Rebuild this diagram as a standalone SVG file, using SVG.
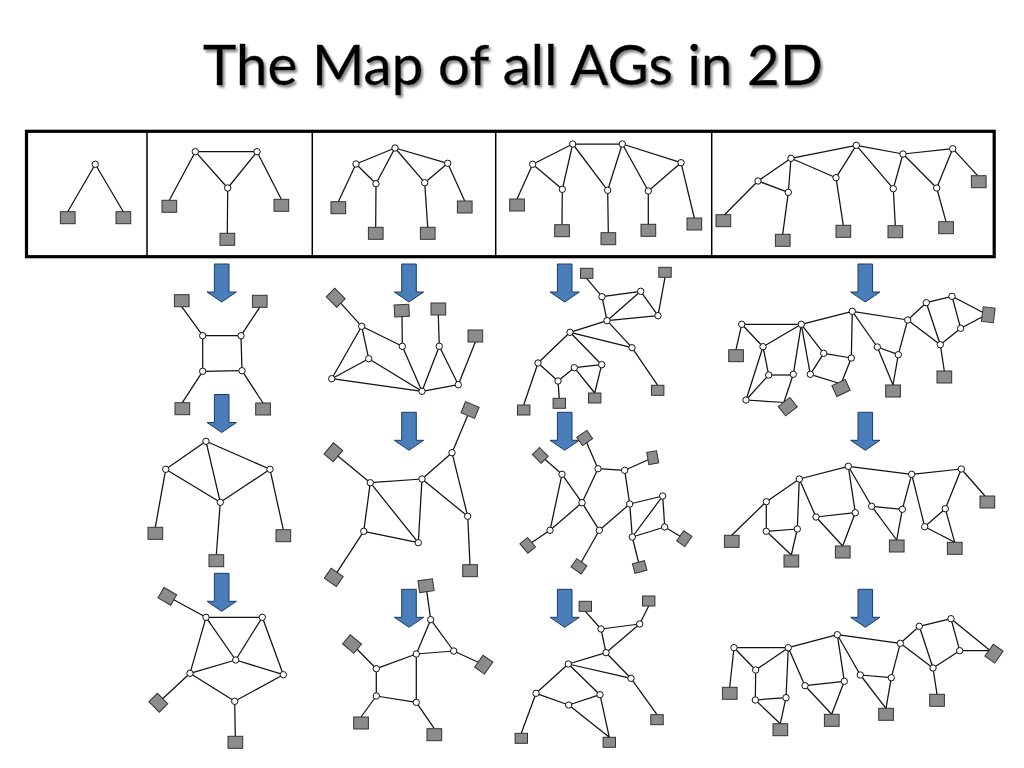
<svg xmlns="http://www.w3.org/2000/svg" width="1024" height="768" viewBox="0 0 1024 768">
<style>
.e path{fill:none;stroke:#111;stroke-width:1.25}
.f{fill:none;stroke:#000}
.t{font-family:"Lato","Liberation Sans",sans-serif;font-size:57px;fill:#000;stroke:#000;stroke-width:.4}
</style>
<defs>
<filter id="sh" x="-5%" y="-20%" width="110%" height="150%"><feDropShadow dx="2" dy="2.5" stdDeviation="1.2" flood-color="#8a8a8a"/></filter>
<circle id="nd" r="3.2" fill="#fff" stroke="#111" stroke-width="1"/>
<rect id="sq" x="-7.3" y="-6" width="14.7" height="12" fill="#8c8c8c" stroke="#333" stroke-width="1"/>
<rect id="ss" x="-6.2" y="-5" width="12.4" height="10" fill="#8c8c8c" stroke="#333" stroke-width="1"/>
<path id="ar" d="M-7.3 0H7.3V28H14.7L0 38L-14.7 28H-7.3Z" fill="#4a7ebb" stroke="#1f3a63" stroke-width="1"/>
</defs>
<rect width="1024" height="768" fill="#fff"/>
<text id="title" class="t" x="513" y="85" text-anchor="middle" filter="url(#sh)" textLength="620" lengthAdjust="spacingAndGlyphs">The Map of all AGs in 2D</text>
<g id="frame">
<rect class="f" x="26.5" y="131.3" width="967.7" height="125.4" stroke-width="3.2"/>
<path class="f" stroke-width="1.5" d="M147 131V256M312.3 131V256M495.7 131V256M711.7 131V256"/>
</g>
<g id="arrows">
<use href="#ar" x="221.7" y="264"/><use href="#ar" x="409" y="264"/><use href="#ar" x="564.7" y="264"/><use href="#ar" x="865.3" y="264"/>
<use href="#ar" x="221.7" y="394.5"/><use href="#ar" x="409" y="412.3"/><use href="#ar" x="564.7" y="412.3"/><use href="#ar" x="865.3" y="412.3"/>
<use href="#ar" x="221.7" y="573.3"/><use href="#ar" x="409" y="589.3"/><use href="#ar" x="564.7" y="589.3"/><use href="#ar" x="865.3" y="589.3"/>
</g>
<g id="connectors" class="e">
<path d="M95.3 164.3L67.7 211.7"/><path d="M95.3 164.3L123.3 211.7"/>
<path d="M195.3 151.7H257"/><path d="M195.3 151.7L227.7 188"/><path d="M257 151.7L227.7 188"/><path d="M195.3 151.7L169.3 200.3"/><path d="M257 151.7L281.3 199.3"/><path d="M227.7 188L227.3 233.3"/>
<path d="M395 148L356 164"/><path d="M395 148L376 183.7"/><path d="M395 148L424.7 182.7"/><path d="M395 148L447.7 163.3"/><path d="M356 164L376 183.7"/><path d="M424.7 182.7L447.7 163.3"/><path d="M356 164L338.3 201.7"/><path d="M376 183.7L375.7 227.3"/><path d="M424.7 182.7L427.7 227.3"/><path d="M447.7 163.3L464.7 201"/>
<path d="M532.7 164.3L572.7 144"/><path d="M572.7 144H622.3"/><path d="M622.3 144L681 162.7"/><path d="M532.7 164.3L562.3 189.3"/><path d="M572.7 144L562.3 189.3"/><path d="M572.7 144L607.7 190.3"/><path d="M622.3 144L607.7 190.3"/><path d="M622.3 144L648.3 191"/><path d="M681 162.7L648.3 191"/><path d="M532.7 164.3L517 199"/><path d="M562.3 189.3L562 224.7"/><path d="M607.7 190.3L608.3 232.7"/><path d="M648.3 191V224.3"/><path d="M681 162.7L694.3 218"/>
<path d="M758 181L791 158.3"/><path d="M791 158.3L856.3 145.3"/><path d="M856.3 145.3L903 154"/><path d="M903 154L952.7 148.7"/><path d="M758 181L788.3 192.3"/><path d="M791 158.3L788.3 192.3"/><path d="M791 158.3L836 177.7"/><path d="M856.3 145.3L836 177.7"/><path d="M856.3 145.3L893.3 188.7"/><path d="M903 154L893.3 188.7"/><path d="M903 154L936.7 188"/><path d="M952.7 148.7L936.7 188"/><path d="M758 181L724.3 215"/><path d="M788.3 192.3L782.7 234.3"/><path d="M836 177.7L843.3 225.3"/><path d="M893.3 188.7L895.3 225.7"/><path d="M936.7 188L946 221.7"/><path d="M952.7 148.7L977.7 175.7"/>
<path d="M202.7 335.7H241"/><path d="M202.7 335.7V371.3"/><path d="M241 335.7L242 370.7"/><path d="M202.7 371.3L242 370.7"/><path d="M202.7 335.7L181.7 306.7"/><path d="M241 335.7L259.7 307.3"/><path d="M202.7 371.3L182.3 402.7"/><path d="M242 370.7L263 403"/>
<path d="M361.7 326.3L402.3 346.3"/><path d="M361.7 326.3L368.7 358.7"/><path d="M361.7 326.3L331.7 378.7"/><path d="M368.7 358.7L331.7 378.7"/><path d="M368.7 358.7L422 391.3"/><path d="M331.7 378.7L422 391.3"/><path d="M402.3 346.3L422 391.3"/><path d="M439.3 346.3L422 391.3"/><path d="M439.3 346.3L458.3 384.7"/><path d="M422 391.3L458.3 384.7"/><path d="M361.7 326.3L335.7 297.7"/><path d="M402.3 346.3L402 316"/><path d="M439.3 346.3L438.3 315"/><path d="M458.3 384.7L475.3 342"/>
<path d="M602 296.7L640.7 291.3"/><path d="M640.7 291.3L658 315.7"/><path d="M602 296.7L607 320.7"/><path d="M640.7 291.3L607 320.7"/><path d="M658 315.7L607 320.7"/><path d="M607 320.7L570 332.3"/><path d="M607 320.7L632 347.7"/><path d="M570 332.3L632 347.7"/><path d="M570 332.3L538 363"/><path d="M570 332.3L601.7 364.7"/><path d="M538 363L558 381"/><path d="M558 381L574.3 367.7"/><path d="M574.3 367.7L601.7 364.7"/><path d="M574.3 367.7L594.7 393"/><path d="M601.7 364.7L594.7 393"/><path d="M602 296.7L586.7 278.3"/><path d="M658 315.7L665 277.3"/><path d="M632 347.7L657.7 385.3"/><path d="M538 363L523.7 405"/><path d="M558 381L559.3 398.3"/>
<path d="M741.7 324.3L801.3 324.3"/><path d="M801.3 324.3L852.3 311.3"/><path d="M852.3 311.3L907.7 320"/><path d="M907.7 320L926.3 302.7"/><path d="M926.3 302.7L952 296.3"/><path d="M952 296.3L960.7 328.3"/><path d="M960.7 328.3L940.3 344.7"/><path d="M907.7 320L940.3 344.7"/><path d="M926.3 302.7L940.3 344.7"/><path d="M952 296.3L984 313"/><path d="M960.7 328.3L984 316"/><path d="M940.3 344.7L944.3 371"/><path d="M741.7 324.3L763 346.7"/><path d="M801.3 324.3L763 346.7"/><path d="M763 346.7L768.7 375"/><path d="M763 346.7L746 400"/><path d="M768.7 375H793.3"/><path d="M768.7 375L746 400"/><path d="M793.3 374.3L801.3 324.3"/><path d="M793.3 374.3L784 402"/><path d="M746 400L785 402.5"/><path d="M801.3 324.3L823.7 353.3"/><path d="M801.3 324.3L810.3 374.3"/><path d="M823.7 353.3L851.3 358"/><path d="M823.7 353.3L810.3 374.3"/><path d="M852.3 311.3L851.3 358"/><path d="M851.3 358L841 384"/><path d="M810.3 374.3L838 383"/><path d="M852.3 311.3L877.3 347"/><path d="M877.3 347L898.3 354.7"/><path d="M907.7 320L898.3 354.7"/><path d="M877.3 347L893 385"/><path d="M898.3 354.7L893 385"/><path d="M741.7 324.3L736 349.7"/>
<path d="M206 441.3L165.7 469.3"/><path d="M206 441.3L270 469.3"/><path d="M206 441.3L220.3 502.3"/><path d="M165.7 469.3L220.3 502.3"/><path d="M270 469.3L220.3 502.3"/><path d="M165.7 469.3L155.3 527.3"/><path d="M270 469.3L283.3 529.7"/><path d="M220.3 502.3L216.3 554.7"/>
<path d="M370.3 482.7L422 479"/><path d="M370.3 482.7L363.7 531.3"/><path d="M370.3 482.7L418.3 542.7"/><path d="M422 479L418.3 542.7"/><path d="M363.7 531.3L418.3 542.7"/><path d="M422 479L452 452.7"/><path d="M422 479L467.7 516.3"/><path d="M452 452.7L467.7 516.3"/><path d="M370.3 482.7L333.3 452.3"/><path d="M363.7 531.3L333.7 577.3"/><path d="M452 452.7L470 410"/><path d="M467.7 516.3L470 564.7"/>
<path d="M562 474.3L582 502.7"/><path d="M562 474.3L550 530.3"/><path d="M582 502.7L550 530.3"/><path d="M582 502.7L598 468.7"/><path d="M598 468.7L624.7 470.3"/><path d="M624.7 470.3L629.7 504"/><path d="M582 502.7L599.3 530.3"/><path d="M629.7 504L599.3 530.3"/><path d="M629.7 504L662.7 496"/><path d="M629.7 504L632.3 537"/><path d="M662.7 496L664.7 527"/><path d="M662.7 496L632.3 537"/><path d="M664.7 527L632.3 537"/><path d="M562 474.3L540.3 455.3"/><path d="M598 468.7L584.7 438"/><path d="M624.7 470.3L652.7 457.7"/><path d="M550 530.3L527.7 545.3"/><path d="M599.3 530.3L579 566.3"/><path d="M664.7 527L684.3 538.7"/><path d="M632.3 537L639.7 567"/>
<path d="M766.3 501.7L799.3 479"/><path d="M799.3 479L848.3 466.3"/><path d="M848.3 466.3L911.7 474.3"/><path d="M911.7 474.3L961.3 469"/><path d="M766.3 501.7V531.3"/><path d="M799.3 479L797.3 529"/><path d="M766.3 531.3L797.3 529"/><path d="M766.3 531.3L791.3 555"/><path d="M797.3 529L791.3 555"/><path d="M799.3 479L816 517"/><path d="M816 517L855.3 512.7"/><path d="M848.3 466.3L855.3 512.7"/><path d="M816 517L842.7 546"/><path d="M855.3 512.7L842.7 546"/><path d="M848.3 466.3L871.7 506.3"/><path d="M871.7 506.3L902.3 509.3"/><path d="M911.7 474.3L902.3 509.3"/><path d="M871.7 506.3L896.7 540"/><path d="M902.3 509.3L896.7 540"/><path d="M911.7 474.3L924.7 526.7"/><path d="M924.7 526.7L945.3 508.7"/><path d="M961.3 469L945.3 508.7"/><path d="M924.7 526.7L954.7 542.3"/><path d="M945.3 508.7L954.7 542.3"/><path d="M766.3 501.7L731.7 535.3"/><path d="M961.3 469L985 496"/>
<path d="M206 617.3H262.3"/><path d="M206 617.3L235.7 660"/><path d="M262.3 617.3L235.7 660"/><path d="M206 617.3L190 673.3"/><path d="M262.3 617.3L283.3 674.7"/><path d="M235.7 660L190 673.3"/><path d="M235.7 660L283.3 674.7"/><path d="M190 673.3L234.7 701.3"/><path d="M283.3 674.7L234.7 701.3"/><path d="M206 617.3L167.3 596.3"/><path d="M190 673.3L158.3 702.7"/><path d="M234.7 701.3L235.3 736.3"/>
<path d="M430.7 619.7L453.7 651"/><path d="M430.7 619.7L416.3 654"/><path d="M453.7 651L416.3 654"/><path d="M416.3 654L376.3 668.7"/><path d="M416.3 654V702.3"/><path d="M376.3 668.7V696"/><path d="M376.3 696L416.3 702.3"/><path d="M430.7 619.7L426 585.7"/><path d="M453.7 651L483.7 664.7"/><path d="M376.3 668.7L352 644"/><path d="M376.3 696L361 717"/><path d="M416.3 702.3L434.3 728.7"/>
<path d="M601 629L639.7 624"/><path d="M601 629L606 652.7"/><path d="M639.7 624L606 652.7"/><path d="M606 652.7L568.3 664"/><path d="M606 652.7L631 678.3"/><path d="M568.3 664L631 678.3"/><path d="M568.3 664L536 693.3"/><path d="M568.3 664L600 694.7"/><path d="M536 693.3L568.7 705"/><path d="M568.7 705L600 694.7"/><path d="M568.7 705L609.3 737.3"/><path d="M600 694.7L609.3 737.3"/><path d="M601 629L585.3 611.3"/><path d="M639.7 624L648.7 606"/><path d="M631 678.3L657 714.7"/><path d="M536 693.3L521.3 733.3"/>
<path d="M734 647.7H788.3"/><path d="M788.3 647.7L837.3 634.7"/><path d="M837.3 634.7L900.3 643.3"/><path d="M900.3 643.3L919.3 626.3"/><path d="M919.3 626.3L951 618.7"/><path d="M951 618.7L959.7 650.7"/><path d="M959.7 650.7L933 668"/><path d="M900.3 643.3L933 668"/><path d="M919.3 626.3L933 668"/><path d="M734 647.7L755.7 670"/><path d="M788.3 647.7L755.7 670"/><path d="M755.7 670L755.3 700"/><path d="M788.3 647.7L786 697.7"/><path d="M755.3 700L786 697.7"/><path d="M755.3 700L780.3 723.7"/><path d="M786 697.7L780.3 723.7"/><path d="M788.3 647.7L805 685.7"/><path d="M805 685.7L844.3 681.3"/><path d="M837.3 634.7L844.3 681.3"/><path d="M805 685.7L831.7 714.3"/><path d="M844.3 681.3L831.7 714.3"/><path d="M837.3 634.7L860.3 675"/><path d="M860.3 675L891.3 677.7"/><path d="M900.3 643.3L891.3 677.7"/><path d="M860.3 675L886 708.3"/><path d="M891.3 677.7L886 708.3"/><path d="M933 668L937 694.3"/><path d="M734 647.7L729.7 687.3"/><path d="M951 618.7L994 653.7"/><path d="M959.7 650.7L994 650.7"/>
</g>
<g id="top1"><g id="t1n1" transform="translate(95.3 164.3)"><use href="#nd"/></g><g id="t1s1" transform="translate(67.7 217.7)"><use href="#sq"/></g><g id="t1s2" transform="translate(123.3 217.7)"><use href="#sq"/></g></g>
<g id="top2"><g id="t2n1" transform="translate(195.3 151.7)"><use href="#nd"/></g><g id="t2n2" transform="translate(257 151.7)"><use href="#nd"/></g><g id="t2n3" transform="translate(227.7 188)"><use href="#nd"/></g><g id="t2s1" transform="translate(169.3 206.3)"><use href="#sq"/></g><g id="t2s2" transform="translate(281.3 205.3)"><use href="#sq"/></g><g id="t2s3" transform="translate(227.3 239.3)"><use href="#sq"/></g></g>
<g id="top3"><g id="t3n1" transform="translate(395 148)"><use href="#nd"/></g><g id="t3n2" transform="translate(356 164)"><use href="#nd"/></g><g id="t3n3" transform="translate(376 183.7)"><use href="#nd"/></g><g id="t3n4" transform="translate(424.7 182.7)"><use href="#nd"/></g><g id="t3n5" transform="translate(447.7 163.3)"><use href="#nd"/></g><g id="t3s1" transform="translate(338.3 207.7)"><use href="#sq"/></g><g id="t3s2" transform="translate(375.7 233.3)"><use href="#sq"/></g><g id="t3s3" transform="translate(427.7 233.3)"><use href="#sq"/></g><g id="t3s4" transform="translate(464.7 207)"><use href="#sq"/></g></g>
<g id="top4"><g id="t4n1" transform="translate(532.7 164.3)"><use href="#nd"/></g><g id="t4n2" transform="translate(572.7 144)"><use href="#nd"/></g><g id="t4n3" transform="translate(622.3 144)"><use href="#nd"/></g><g id="t4n4" transform="translate(681 162.7)"><use href="#nd"/></g><g id="t4n5" transform="translate(562.3 189.3)"><use href="#nd"/></g><g id="t4n6" transform="translate(607.7 190.3)"><use href="#nd"/></g><g id="t4n7" transform="translate(648.3 191)"><use href="#nd"/></g><g id="t4s1" transform="translate(517 205)"><use href="#sq"/></g><g id="t4s2" transform="translate(562 230.7)"><use href="#sq"/></g><g id="t4s3" transform="translate(608.3 238.7)"><use href="#sq"/></g><g id="t4s4" transform="translate(648.3 230.3)"><use href="#sq"/></g><g id="t4s5" transform="translate(694.3 224)"><use href="#sq"/></g></g>
<g id="top5"><g id="t5n1" transform="translate(758 181)"><use href="#nd"/></g><g id="t5n2" transform="translate(791 158.3)"><use href="#nd"/></g><g id="t5n3" transform="translate(856.3 145.3)"><use href="#nd"/></g><g id="t5n4" transform="translate(903 154)"><use href="#nd"/></g><g id="t5n5" transform="translate(952.7 148.7)"><use href="#nd"/></g><g id="t5n6" transform="translate(788.3 192.3)"><use href="#nd"/></g><g id="t5n7" transform="translate(836 177.7)"><use href="#nd"/></g><g id="t5n8" transform="translate(893.3 188.7)"><use href="#nd"/></g><g id="t5n9" transform="translate(936.7 188)"><use href="#nd"/></g><g id="t5s1" transform="translate(723.3 220.7)"><use href="#sq"/></g><g id="t5s2" transform="translate(782.7 240.3)"><use href="#sq"/></g><g id="t5s3" transform="translate(843.3 231.3)"><use href="#sq"/></g><g id="t5s4" transform="translate(895.3 231.7)"><use href="#sq"/></g><g id="t5s5" transform="translate(946 227.7)"><use href="#sq"/></g><g id="t5s6" transform="translate(978.7 181.7)"><use href="#sq"/></g></g>
<g id="r1c2"><g id="a1" transform="translate(202.7 335.7)"><use href="#nd"/></g><g id="a2" transform="translate(241 335.7)"><use href="#nd"/></g><g id="a3" transform="translate(202.7 371.3)"><use href="#nd"/></g><g id="a4" transform="translate(242 370.7)"><use href="#nd"/></g><g id="a5" transform="translate(181.7 300.7)"><use href="#sq"/></g><g id="a6" transform="translate(259.7 301.3)"><use href="#sq"/></g><g id="a7" transform="translate(182.3 408.7)"><use href="#sq"/></g><g id="a8" transform="translate(263 409)"><use href="#sq"/></g></g>
<g id="r1c3"><g id="b1" transform="translate(361.7 326.3)"><use href="#nd"/></g><g id="b2" transform="translate(402.3 346.3)"><use href="#nd"/></g><g id="b3" transform="translate(439.3 346.3)"><use href="#nd"/></g><g id="b4" transform="translate(368.7 358.7)"><use href="#nd"/></g><g id="b5" transform="translate(331.7 378.7)"><use href="#nd"/></g><g id="b6" transform="translate(422 391.3)"><use href="#nd"/></g><g id="b7" transform="translate(458.3 384.7)"><use href="#nd"/></g><g id="b8" transform="translate(335.7 297.7) rotate(45)"><use href="#sq"/></g><g id="b9" transform="translate(401.7 310.7) rotate(-3)"><use href="#sq"/></g><g id="b10" transform="translate(438.3 309)"><use href="#sq"/></g><g id="b11" transform="translate(475.3 336)"><use href="#sq"/></g></g>
<g id="r1c4"><g id="c1" transform="translate(602 296.7)"><use href="#nd"/></g><g id="c2" transform="translate(640.7 291.3)"><use href="#nd"/></g><g id="c3" transform="translate(658 315.7)"><use href="#nd"/></g><g id="c4" transform="translate(607 320.7)"><use href="#nd"/></g><g id="c5" transform="translate(570 332.3)"><use href="#nd"/></g><g id="c6" transform="translate(632 347.7)"><use href="#nd"/></g><g id="c7" transform="translate(538 363)"><use href="#nd"/></g><g id="c8" transform="translate(558 381)"><use href="#nd"/></g><g id="c9" transform="translate(574.3 367.7)"><use href="#nd"/></g><g id="c10" transform="translate(601.7 364.7)"><use href="#nd"/></g><g id="c11" transform="translate(586.7 273.3)"><use href="#ss"/></g><g id="c12" transform="translate(665 272.3)"><use href="#ss"/></g><g id="c13" transform="translate(657.7 390.3)"><use href="#ss"/></g><g id="c14" transform="translate(523.7 410)"><use href="#ss"/></g><g id="c15" transform="translate(559.3 403.3)"><use href="#ss"/></g><g id="c16" transform="translate(594.7 398)"><use href="#ss"/></g></g>
<g id="r1c5"><g id="d1" transform="translate(741.7 324.3)"><use href="#nd"/></g><g id="d2" transform="translate(801.3 324.3)"><use href="#nd"/></g><g id="d3" transform="translate(852.3 311.3)"><use href="#nd"/></g><g id="d4" transform="translate(907.7 320)"><use href="#nd"/></g><g id="d5" transform="translate(926.3 302.7)"><use href="#nd"/></g><g id="d6" transform="translate(952 296.3)"><use href="#nd"/></g><g id="d7" transform="translate(960.7 328.3)"><use href="#nd"/></g><g id="d8" transform="translate(940.3 344.7)"><use href="#nd"/></g><g id="d9" transform="translate(763 346.7)"><use href="#nd"/></g><g id="d10" transform="translate(768.7 375)"><use href="#nd"/></g><g id="d11" transform="translate(793.3 374.3)"><use href="#nd"/></g><g id="d12" transform="translate(746 400)"><use href="#nd"/></g><g id="d13" transform="translate(823.7 353.3)"><use href="#nd"/></g><g id="d14" transform="translate(851.3 358)"><use href="#nd"/></g><g id="d15" transform="translate(810.3 374.3)"><use href="#nd"/></g><g id="d16" transform="translate(877.3 347)"><use href="#nd"/></g><g id="d17" transform="translate(898.3 354.7)"><use href="#nd"/></g><g id="d18" transform="translate(736 355.7)"><use href="#sq"/></g><g id="d19" transform="translate(787.7 406.7) rotate(-38)"><use href="#sq"/></g><g id="d20" transform="translate(841 388) rotate(-25)"><use href="#sq"/></g><g id="d21" transform="translate(893 391)"><use href="#sq"/></g><g id="d22" transform="translate(944.3 377)"><use href="#sq"/></g><g id="d23" transform="translate(988.3 314.7) rotate(97)"><use href="#sq"/></g></g>
<g id="r2c2"><g id="e1" transform="translate(206 441.3)"><use href="#nd"/></g><g id="e2" transform="translate(165.7 469.3)"><use href="#nd"/></g><g id="e3" transform="translate(270 469.3)"><use href="#nd"/></g><g id="e4" transform="translate(220.3 502.3)"><use href="#nd"/></g><g id="e5" transform="translate(155.3 533.3)"><use href="#sq"/></g><g id="e6" transform="translate(283.3 535.7)"><use href="#sq"/></g><g id="e7" transform="translate(216.3 560.7)"><use href="#sq"/></g></g>
<g id="r2c3"><g id="f1" transform="translate(370.3 482.7)"><use href="#nd"/></g><g id="f2" transform="translate(422 479)"><use href="#nd"/></g><g id="f3" transform="translate(452 452.7)"><use href="#nd"/></g><g id="f4" transform="translate(467.7 516.3)"><use href="#nd"/></g><g id="f5" transform="translate(363.7 531.3)"><use href="#nd"/></g><g id="f6" transform="translate(418.3 542.7)"><use href="#nd"/></g><g id="f7" transform="translate(333.3 452.3) rotate(-50)"><use href="#sq"/></g><g id="f8" transform="translate(333.7 577.3) rotate(35)"><use href="#sq"/></g><g id="f9" transform="translate(470 410) rotate(22)"><use href="#sq"/></g><g id="f10" transform="translate(470 570.7)"><use href="#sq"/></g></g>
<g id="r2c4"><g id="h1" transform="translate(562 474.3)"><use href="#nd"/></g><g id="h2" transform="translate(598 468.7)"><use href="#nd"/></g><g id="h3" transform="translate(624.7 470.3)"><use href="#nd"/></g><g id="h4" transform="translate(582 502.7)"><use href="#nd"/></g><g id="h5" transform="translate(629.7 504)"><use href="#nd"/></g><g id="h6" transform="translate(662.7 496)"><use href="#nd"/></g><g id="h7" transform="translate(664.7 527)"><use href="#nd"/></g><g id="h8" transform="translate(632.3 537)"><use href="#nd"/></g><g id="h9" transform="translate(550 530.3)"><use href="#nd"/></g><g id="h10" transform="translate(599.3 530.3)"><use href="#nd"/></g><g id="h11" transform="translate(584.7 438) rotate(-35)"><use href="#ss"/></g><g id="h12" transform="translate(540.3 455.3) rotate(45)"><use href="#ss"/></g><g id="h13" transform="translate(652.7 457.7) rotate(80)"><use href="#ss"/></g><g id="h14" transform="translate(527.7 545.3) rotate(50)"><use href="#ss"/></g><g id="h15" transform="translate(684.3 538.7) rotate(-55)"><use href="#ss"/></g><g id="h16" transform="translate(579 566.3) rotate(35)"><use href="#ss"/></g><g id="h17" transform="translate(639.7 567) rotate(-15)"><use href="#ss"/></g></g>
<g id="r2c5"><g id="i1" transform="translate(766.3 501.7)"><use href="#nd"/></g><g id="i2" transform="translate(799.3 479)"><use href="#nd"/></g><g id="i3" transform="translate(848.3 466.3)"><use href="#nd"/></g><g id="i4" transform="translate(911.7 474.3)"><use href="#nd"/></g><g id="i5" transform="translate(961.3 469)"><use href="#nd"/></g><g id="i6" transform="translate(766.3 531.3)"><use href="#nd"/></g><g id="i7" transform="translate(797.3 529)"><use href="#nd"/></g><g id="i8" transform="translate(816 517)"><use href="#nd"/></g><g id="i9" transform="translate(855.3 512.7)"><use href="#nd"/></g><g id="i10" transform="translate(871.7 506.3)"><use href="#nd"/></g><g id="i11" transform="translate(902.3 509.3)"><use href="#nd"/></g><g id="i12" transform="translate(924.7 526.7)"><use href="#nd"/></g><g id="i13" transform="translate(945.3 508.7)"><use href="#nd"/></g><g id="i14" transform="translate(731.7 541.3)"><use href="#sq"/></g><g id="i15" transform="translate(791.3 561)"><use href="#sq"/></g><g id="i16" transform="translate(842.7 552)"><use href="#sq"/></g><g id="i17" transform="translate(896.7 546)"><use href="#sq"/></g><g id="i18" transform="translate(954.7 548.3)"><use href="#sq"/></g><g id="i19" transform="translate(987.3 502)"><use href="#sq"/></g></g>
<g id="r3c2"><g id="j1" transform="translate(206 617.3)"><use href="#nd"/></g><g id="j2" transform="translate(262.3 617.3)"><use href="#nd"/></g><g id="j3" transform="translate(235.7 660)"><use href="#nd"/></g><g id="j4" transform="translate(190 673.3)"><use href="#nd"/></g><g id="j5" transform="translate(283.3 674.7)"><use href="#nd"/></g><g id="j6" transform="translate(234.7 701.3)"><use href="#nd"/></g><g id="j7" transform="translate(167.3 596.3) rotate(30)"><use href="#sq"/></g><g id="j8" transform="translate(158.3 702.7) rotate(45)"><use href="#sq"/></g><g id="j9" transform="translate(235.3 742.3)"><use href="#sq"/></g></g>
<g id="r3c3"><g id="k1" transform="translate(430.7 619.7)"><use href="#nd"/></g><g id="k2" transform="translate(453.7 651)"><use href="#nd"/></g><g id="k3" transform="translate(416.3 654)"><use href="#nd"/></g><g id="k4" transform="translate(376.3 668.7)"><use href="#nd"/></g><g id="k5" transform="translate(376.3 696)"><use href="#nd"/></g><g id="k6" transform="translate(416.3 702.3)"><use href="#nd"/></g><g id="k7" transform="translate(426 585.7) rotate(-8)"><use href="#sq"/></g><g id="k8" transform="translate(352 644) rotate(40)"><use href="#sq"/></g><g id="k9" transform="translate(483.7 664.7) rotate(-55)"><use href="#sq"/></g><g id="k10" transform="translate(361 723)"><use href="#sq"/></g><g id="k11" transform="translate(434.3 734.7)"><use href="#sq"/></g></g>
<g id="r3c4"><g id="l1" transform="translate(601 629)"><use href="#nd"/></g><g id="l2" transform="translate(639.7 624)"><use href="#nd"/></g><g id="l3" transform="translate(606 652.7)"><use href="#nd"/></g><g id="l4" transform="translate(568.3 664)"><use href="#nd"/></g><g id="l5" transform="translate(631 678.3)"><use href="#nd"/></g><g id="l6" transform="translate(536 693.3)"><use href="#nd"/></g><g id="l7" transform="translate(568.7 705)"><use href="#nd"/></g><g id="l8" transform="translate(600 694.7)"><use href="#nd"/></g><g id="l9" transform="translate(585.3 606.3)"><use href="#ss"/></g><g id="l10" transform="translate(648.7 601)"><use href="#ss"/></g><g id="l11" transform="translate(657 719.7)"><use href="#ss"/></g><g id="l12" transform="translate(521.3 738.3)"><use href="#ss"/></g><g id="l13" transform="translate(609.3 742.3)"><use href="#ss"/></g></g>
<g id="r3c5"><g id="m1" transform="translate(734 647.7)"><use href="#nd"/></g><g id="m2" transform="translate(788.3 647.7)"><use href="#nd"/></g><g id="m3" transform="translate(837.3 634.7)"><use href="#nd"/></g><g id="m4" transform="translate(900.3 643.3)"><use href="#nd"/></g><g id="m5" transform="translate(919.3 626.3)"><use href="#nd"/></g><g id="m6" transform="translate(951 618.7)"><use href="#nd"/></g><g id="m7" transform="translate(959.7 650.7)"><use href="#nd"/></g><g id="m8" transform="translate(933 668)"><use href="#nd"/></g><g id="m9" transform="translate(755.7 670)"><use href="#nd"/></g><g id="m10" transform="translate(755.3 700)"><use href="#nd"/></g><g id="m11" transform="translate(786 697.7)"><use href="#nd"/></g><g id="m12" transform="translate(805 685.7)"><use href="#nd"/></g><g id="m13" transform="translate(844.3 681.3)"><use href="#nd"/></g><g id="m14" transform="translate(860.3 675)"><use href="#nd"/></g><g id="m15" transform="translate(891.3 677.7)"><use href="#nd"/></g><g id="m16" transform="translate(729.7 693.3)"><use href="#sq"/></g><g id="m17" transform="translate(780.3 729.7)"><use href="#sq"/></g><g id="m18" transform="translate(831.7 720.3)"><use href="#sq"/></g><g id="m19" transform="translate(886 714.3)"><use href="#sq"/></g><g id="m20" transform="translate(937 700.3)"><use href="#sq"/></g><g id="m21" transform="translate(994 653.7) rotate(-55)"><use href="#sq"/></g></g>
</svg>
